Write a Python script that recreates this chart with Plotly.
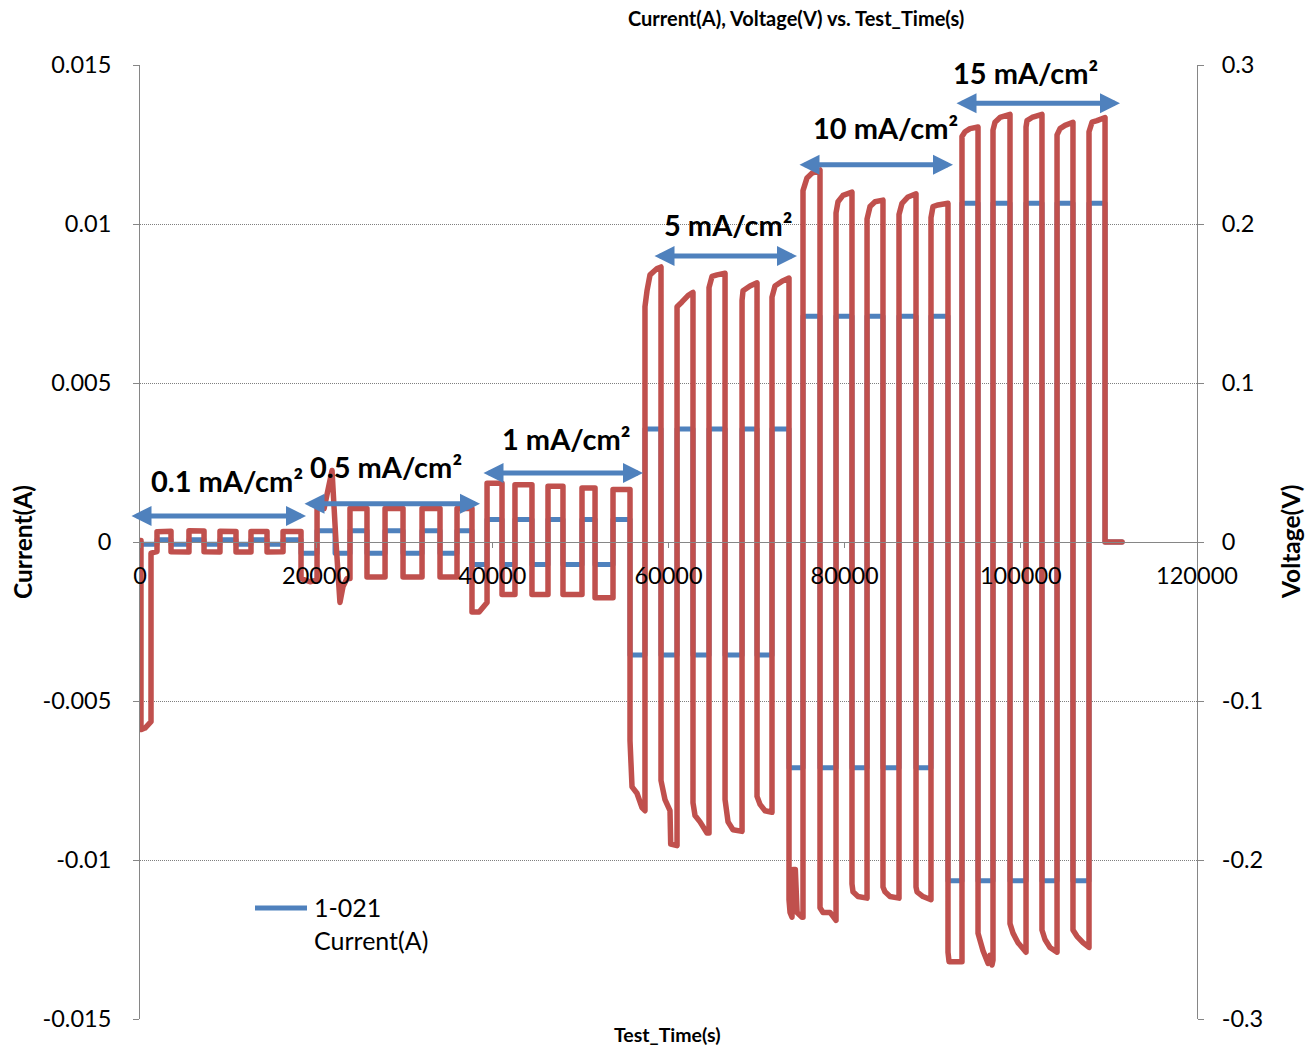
import plotly.graph_objects as go

# ---------------------------------------------------------------------------
# Cycling protocol: six current-density blocks, five charge/discharge cycles
# ---------------------------------------------------------------------------
densities = [0.1, 0.5, 1, 5, 10, 15]      # mA/cm2
electrode_area_cm2 = 0.71

# Current switch times (s) in each block: discharge, charge, discharge, ...
switch_01 = [110, 1930, 3520, 5560, 7270, 9080, 10900, 12600, 14420, 16240]
switch_05 = [18280, 20100, 22140, 23840, 25770, 27820, 29860, 32020, 34060, 35990]
switch_1 = [37690, 39400, 41100, 42570, 44500, 46320, 48020, 50180, 51660, 53700]
switch_5 = [55630, 57330, 59150, 60970, 62780, 64600, 66420, 68350, 70050, 71750]
switch_10 = [73680, 75270, 77200, 79020, 80830, 82540, 84350, 86170, 88100, 89800]
switch_15 = [91730, 93320, 95140, 96840, 98770, 100590, 102400, 104110, 105920, 107740]
rest_end = [109560, 111490]

# Cell voltage (V) against test time (s), block by block
t_01 = [0, 110, 110, 570, 910, 1140, 1250, 1250, 1700, 1930,
        1930, 3520, 3520, 5560, 5560, 7270, 7270, 9080, 9080, 10900,
        10900, 12600, 12600, 14420, 14420, 16240, 16240, 18280]
v_01 = [0.001, 0.001, -0.118, -0.117, -0.115, -0.113, -0.113, -0.007, -0.006, -0.006,
        0.0065, 0.0068, -0.0062, -0.0063, 0.0070, 0.0069, -0.0062, -0.0063, 0.0067, 0.0066,
        -0.0063, -0.0063, 0.0066, 0.0066, -0.0063, -0.0062, 0.0066, 0.0066]

t_05 = [18280, 19300, 20100, 20100, 20900, 21800, 22250, 22700, 23050, 23500,
        23840, 23840, 25770, 25770, 27820, 27820, 29860, 29860, 32020, 32020,
        34060, 34060, 35990, 35990, 37690]
v_05 = [-0.023, -0.025, -0.024, 0.021, 0.021, 0.045, 0.000, -0.038, -0.028, -0.023,
        -0.023, 0.021, 0.021, -0.022, -0.022, 0.021, 0.021, -0.022, -0.022, 0.021,
        0.021, -0.022, -0.022, 0.021, 0.021]

t_1 = [37690, 38500, 39000, 39400, 39400, 41100, 41100, 42570, 42570, 44500,
       44500, 46320, 46320, 48020, 48020, 50180, 50180, 51660, 51660, 53700,
       53700, 55630]
v_1 = [-0.044, -0.044, -0.040, -0.038, 0.037, 0.037, -0.033, -0.033, 0.036, 0.036,
       -0.033, -0.033, 0.035, 0.035, -0.033, -0.033, 0.034, 0.034, -0.035, -0.035,
       0.033, 0.033]

t_5 = [55630, 55860, 56420, 56990, 57330,
       57330, 57560, 57900, 58700, 59150,
       59150, 59600, 60170, 60250, 60970,
       60970, 61530, 62210, 62780,
       62780, 63010, 63580, 64370, 64600,
       64600, 64940, 65510, 66190, 66420,
       66420, 66760, 67320, 68120, 68350,
       68350, 68460, 69250, 69820, 70050,
       70050, 70390, 70960, 71750,
       71750, 72090, 72890, 73450, 73680]
v_5 = [-0.125, -0.154, -0.158, -0.167, -0.169,
       0.148, 0.158, 0.168, 0.172, 0.173,
       -0.150, -0.162, -0.169, -0.190, -0.191,
       0.148, 0.151, 0.155, 0.157,
       -0.164, -0.172, -0.176, -0.183, -0.183,
       0.160, 0.167, 0.168, 0.169, 0.169,
       -0.162, -0.176, -0.181, -0.182, -0.182,
       0.152, 0.158, 0.161, 0.163, 0.163,
       -0.160, -0.165, -0.169, -0.170,
       0.154, 0.161, 0.164, 0.166, 0.166]

t_10 = [73680, 73800, 74020, 74135, 74400, 74600, 75157, 75270,
        75270, 75725, 76290, 76970, 77200,
        77200, 77540, 78340, 78900, 79020,
        79020, 79244, 79812, 80606, 80830,
        80830, 80947, 81515, 82540,
        82540, 82877, 83445, 84239, 84350,
        84350, 84580, 85148, 86056, 86170,
        86170, 86510, 87191, 87986, 88100,
        88100, 88213, 88894, 89689, 89800,
        89800, 90029, 90597, 91619, 91730]
v_10 = [-0.225, -0.233, -0.236, -0.206, -0.206, -0.233, -0.236, -0.236,
        0.221, 0.229, 0.232, 0.234, 0.234,
        -0.230, -0.233, -0.233, -0.238, -0.238,
        0.207, 0.214, 0.218, 0.220, 0.220,
        -0.215, -0.220, -0.223, -0.224,
        0.203, 0.211, 0.214, 0.215, 0.215,
        -0.217, -0.220, -0.223, -0.224, -0.224,
        0.206, 0.213, 0.217, 0.219, 0.219,
        -0.217, -0.220, -0.223, -0.225, -0.225,
        0.204, 0.211, 0.212, 0.213, 0.213]

t_15 = [91730, 91850, 93100, 93320,
        93320, 93662, 94230, 95025, 95140,
        95140, 95365, 95706, 96273, 96500, 96727, 96840,
        96840, 97068, 97636, 98544, 98770,
        98770, 99112, 99679, 100474, 100590,
        100590, 100701, 101269, 102177, 102400,
        102400, 102745, 103312, 104110,
        104110, 104448, 105015, 105810, 105920,
        105920, 106377, 107058, 107740,
        107740, 108081, 108648, 109330, 109560,
        109560, 111490]
v_15 = [-0.258, -0.264, -0.264, -0.264,
        0.255, 0.258, 0.260, 0.261, 0.261,
        -0.246, -0.252, -0.257, -0.265, -0.260, -0.266, -0.263,
        0.259, 0.264, 0.267, 0.269, 0.269,
        -0.240, -0.246, -0.252, -0.258, -0.258,
        0.261, 0.265, 0.267, 0.269, 0.269,
        -0.244, -0.250, -0.255, -0.258,
        0.256, 0.260, 0.262, 0.264, 0.264,
        -0.244, -0.248, -0.252, -0.255,
        0.258, 0.264, 0.265, 0.267, 0.267,
        0.0, 0.0]

# Axis ticks
x_ticks = [0, 20000, 40000, 60000, 80000, 100000, 120000]
x_ticktext = ["0", "20000", "40000", "60000", "80000", "100000", "120000"]
i_ticks = [0.015, 0.01, 0.005, 0, -0.005, -0.01, -0.015]
i_ticktext = ["0.015", "0.01", "0.005", "0", "-0.005", "-0.01", "-0.015"]
v_ticks = [0.3, 0.2, 0.1, 0, -0.1, -0.2, -0.3]
v_ticktext = ["0.3", "0.2", "0.1", "0", "-0.1", "-0.2", "-0.3"]

# ---------------------------------------------------------------------------
# Assemble the traces
# ---------------------------------------------------------------------------
switches = [switch_01, switch_05, switch_1, switch_5, switch_10, switch_15]

cur_t = [0]
cur_a = [0.0]
for sw, dens in zip(switches, densities):
    amp = dens * electrode_area_cm2 / 1000.0   # A
    for k, t in enumerate(sw):
        cur_t.append(t)
        cur_a.append(-amp if k % 2 == 0 else amp)
for t in rest_end:
    cur_t.append(t)
    cur_a.append(0.0)

volt_t = t_01 + t_05 + t_1 + t_5 + t_10 + t_15
volt_v = v_01 + v_05 + v_1 + v_5 + v_10 + v_15

BLUE = "#4F81BD"
RED = "#C0504D"
GREY = "#868686"
FONT = "Lato"

fig = go.Figure()
fig.add_trace(go.Scatter(
    x=cur_t, y=cur_a, mode="lines", line_shape="hv",
    line=dict(color=BLUE, width=5), name="1-021 Current(A)",
    yaxis="y", showlegend=False,
))
fig.add_trace(go.Scatter(
    x=volt_t, y=volt_v, mode="lines",
    line=dict(color=RED, width=5.5), name="1-021 Voltage(V)",
    yaxis="y2", showlegend=False,
))

# ---------------------------------------------------------------------------
# Layout
# ---------------------------------------------------------------------------
tick_font = dict(family=FONT, size=23.5, color="#000000")

fig.update_layout(
    width=1305, height=1047,
    margin=dict(l=140, r=108, t=65, b=28, autoexpand=False),
    plot_bgcolor="white", paper_bgcolor="white",
    font=dict(family=FONT, color="#000000"),
    xaxis=dict(
        range=[0, 120000], tickvals=x_ticks, ticktext=x_ticktext,
        anchor="free", position=0.5,
        showline=True, linecolor=GREY, linewidth=1,
        ticks="outside", ticklen=5, tickcolor=GREY,
        showgrid=False, zeroline=False, tickfont=tick_font,
        ticklabelstandoff=8,
    ),
    yaxis=dict(
        range=[-0.015, 0.015], tickvals=i_ticks, ticktext=i_ticktext,
        showline=True, linecolor=GREY, linewidth=1,
        ticks="outside", ticklen=6, tickcolor=GREY,
        showgrid=True, gridcolor="#7f7f7f", gridwidth=1, griddash="1px,1px",
        zeroline=False, tickfont=tick_font, ticklabelstandoff=17,
    ),
    yaxis2=dict(
        range=[-0.3, 0.3], tickvals=v_ticks, ticktext=v_ticktext,
        overlaying="y", side="right", anchor="x",
        showline=True, linecolor=GREY, linewidth=1,
        ticks="outside", ticklen=6, tickcolor=GREY,
        showgrid=False, zeroline=False, tickfont=tick_font,
        ticklabelstandoff=13,
    ),
)

annotations = []

# Chart and axis titles
annotations.append(dict(
    text="<b>Current(A), Voltage(V) vs. Test_Time(s)</b>",
    xref="paper", yref="paper", x=0.6206, y=1.049,
    xanchor="center", yanchor="middle", showarrow=False,
    font=dict(family=FONT, size=20),
))
annotations.append(dict(
    text="<b>Test_Time(s)</b>", xref="paper", yref="paper",
    x=0.4995, y=-0.0165, xanchor="center", yanchor="middle",
    showarrow=False, font=dict(family=FONT, size=19.5),
))
annotations.append(dict(
    text="<b>Current(A)</b>", xref="paper", yref="paper",
    x=-0.1116, y=0.5, xanchor="center", yanchor="middle", textangle=-90,
    showarrow=False, font=dict(family=FONT, size=24.5),
))
annotations.append(dict(
    text="<b>Voltage(V)</b>", xref="paper", yref="paper",
    x=1.088, y=0.5, xanchor="center", yanchor="middle", textangle=-90,
    showarrow=False, font=dict(family=FONT, size=24.5),
))

# Current-density labels with double-headed span arrows
label_pos = [(9877, 0.00192), (27928, 0.00239), (48364, 0.00327),
             (66756, 0.00997), (84580, 0.01305), (100474, 0.01475)]
arrow_spans = [(-1135, 18846, 0.00082), (18505, 38600, 0.00120),
               (38827, 57106, 0.00217), (58241, 74589, 0.00899),
               (74703, 92300, 0.01186), (92527, 111260, 0.0138)]

for dens, (lx, ly), (x0, x1, ay) in zip(densities, label_pos, arrow_spans):
    annotations.append(dict(
        text="<b>%g mA/cm²</b>" % dens,
        xref="x", yref="y", x=lx, y=ly,
        xanchor="center", yanchor="middle", showarrow=False,
        font=dict(family=FONT, size=29, color="#000000"),
    ))
    annotations.append(dict(
        text="", xref="x", yref="y", x=x1, y=ay,
        axref="x", ayref="y", ax=x0, ay=ay,
        showarrow=True, arrowside="end+start",
        arrowhead=2, startarrowhead=2,
        arrowsize=0.8, startarrowsize=0.8,
        arrowwidth=5, arrowcolor=BLUE,
        standoff=0, startstandoff=0,
    ))

# Legend entry
annotations.append(dict(
    text="1-021<br>Current(A)", xref="paper", yref="paper",
    x=0.1627, y=0.0996, xanchor="left", yanchor="middle", align="left",
    showarrow=False, font=dict(family=FONT, size=25),
))

fig.update_layout(
    annotations=annotations,
    shapes=[dict(
        type="line", xref="paper", yref="paper",
        x0=0.1088, x1=0.158, y0=0.1164, y1=0.1164,
        line=dict(color=BLUE, width=5),
    )],
)

# Rounded joins on the data lines
round_joins = """
document.querySelectorAll('.scatterlayer path.js-line').forEach(function (p) {
    p.style.strokeLinejoin = 'round';
    p.style.strokeLinecap = 'round';
});
"""

fig.write_html("out.html", post_script=round_joins)
